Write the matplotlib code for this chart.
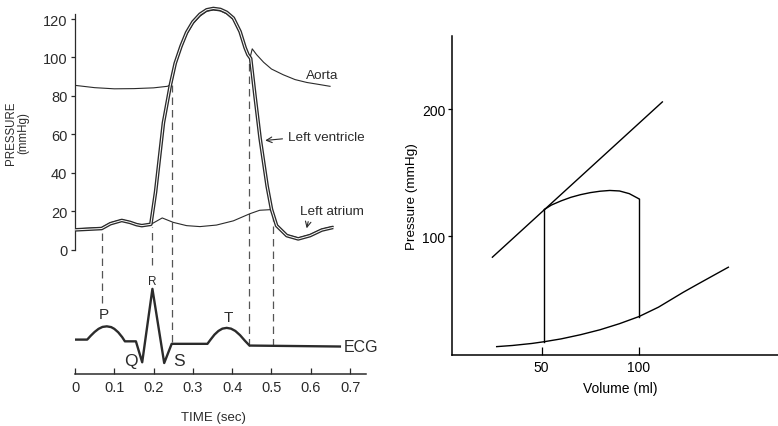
import matplotlib
matplotlib.use("Agg")
import matplotlib.pyplot as plt

plt.rcParams["font.family"] = ["Liberation Sans", "DejaVu Sans"]

# 左图：压力曲线（时间 s，压力 mmHg）
lv_t = [0, 0.068, 0.09, 0.119, 0.14, 0.157, 0.17, 0.193, 0.205, 0.225, 0.243, 0.255, 0.27, 0.284,
        0.3, 0.318, 0.335, 0.352, 0.37, 0.386, 0.403, 0.42, 0.433, 0.44, 0.447, 0.458, 0.471,
        0.489, 0.5, 0.513, 0.539, 0.568, 0.598, 0.628, 0.657]
lv_p = [10.3, 11.0, 13.5, 15.2, 14.2, 13.0, 12.5, 13.2, 30, 66, 86, 97, 106, 113,
        118.5, 122.5, 124.8, 125.5, 125, 123.5, 120.5, 113.5, 105, 101.5, 99.5, 80, 58,
        33, 21, 12.5, 7.3, 5.6, 7.3, 10.2, 11.6]

ao_t = [0, 0.05, 0.1, 0.15, 0.2, 0.235, 0.245, 0.255, 0.27, 0.284, 0.3, 0.318, 0.335, 0.352,
        0.37, 0.386, 0.403, 0.42, 0.433, 0.44, 0.446, 0.451, 0.462, 0.48, 0.5, 0.53, 0.56,
        0.59, 0.62, 0.649]
ao_p = [85.5, 84.3, 83.7, 83.8, 84.2, 85, 86, 96, 105, 112, 117.5, 121.5, 124, 124.7,
        124.2, 122.7, 119.7, 112.7, 104.5, 101.5, 100.3, 104.5, 101.5, 97.5, 94, 91, 88.5,
        87, 86, 85]

la_t = [0, 0.068, 0.09, 0.119, 0.14, 0.157, 0.17, 0.195, 0.222, 0.25, 0.284, 0.318, 0.36,
        0.403, 0.445, 0.47, 0.496, 0.503, 0.513, 0.539, 0.568, 0.598, 0.628, 0.657]
la_p = [10.8, 11.5, 14, 15.6, 14.5, 13.4, 12.8, 13.4, 16.5, 14.2, 12.5, 12, 12.8,
        15, 18.7, 20.5, 20.8, 20, 13, 7.8, 6.1, 7.8, 10.7, 12.1]

# 心电图（与压力同一纵轴单位，置于 0 以下）
ecg_t = [0.003, 0.031, 0.04, 0.05, 0.06, 0.07, 0.081, 0.092, 0.1, 0.11, 0.12, 0.127, 0.155,
         0.171, 0.197, 0.227, 0.246, 0.337, 0.345, 0.355, 0.365, 0.375, 0.386, 0.397, 0.408,
         0.42, 0.432, 0.444, 0.674]
ecg_v = [-46.8, -46.8, -44.8, -42.8, -41.2, -40.2, -39.9, -40.3, -41.2, -43, -45.5, -47.7, -47.7,
         -58.6, -20.4, -59, -49, -49, -46.8, -44.2, -42.3, -41.1, -40.7, -41.1, -42.3,
         -44.5, -47.3, -49.9, -50.4]

event_t = [0.068, 0.196, 0.246, 0.442, 0.503]
event_top = [10.5, 12, 85.5, 98, 20]
event_bottom = [-28, -8, -48, -50, -50]

ecg_letters = ["P", "Q", "R", "S", "T"]
letter_t = [0.074, 0.142, 0.196, 0.265, 0.389]
letter_v = [-33.6, -57.9, -16.3, -57.9, -35]
letter_size = [11, 12.5, 8.5, 12.5, 11]

time_ticks = [0, 0.1, 0.2, 0.3, 0.4, 0.5, 0.6, 0.7]
pressure_ticks = [0, 20, 40, 60, 80, 100, 120]

# 右图：压力–容积环
espvr_v = [24.7, 112]
espvr_p = [83.4, 205.8]
edpvr_v = [26.9, 35, 45, 51.4, 60, 70, 80, 90, 100, 110, 122.8, 130, 140, 145.9]
edpvr_p = [12.9, 13.8, 15.4, 16.8, 19, 22.3, 26.2, 31, 36.6, 44, 55.8, 62, 70.5, 75.5]
eject_v = [51.4, 55, 60, 65, 70, 75, 80, 85, 90, 95, 100]
eject_p = [121, 124.5, 127.8, 130.6, 132.7, 134.3, 135.4, 136, 135.6, 133.5, 129.4]
iso_v = [51.4, 100]
iso_bottom = [16.8, 36.6]
iso_top = [121, 129.4]

W, H = 778, 427
fig = plt.figure(figsize=(W / 100, H / 100), dpi=100)

ink = "#2b2b2b"
ax = fig.add_axes([75 / W, (H - 375) / H, 290.8 / W, 368.4 / H])
ax.set_xlim(0, 0.74)
ax.set_ylim(-64.7, 127)

ax.plot(la_t, la_p, color=ink, lw=0.8, zorder=2)
ax.plot(ao_t, ao_p, color=ink, lw=0.8, zorder=2)
ax.plot(lv_t, lv_p, color=ink, lw=2.6, zorder=3, solid_capstyle="butt")
ax.plot(lv_t, lv_p, color="white", lw=0.7, zorder=4, solid_capstyle="butt")
ax.plot(ecg_t, ecg_v, color=ink, lw=1.7, zorder=3)
for t, top, bot in zip(event_t, event_top, event_bottom):
    ax.plot([t, t], [bot, top], color="#555555", lw=0.9, dashes=(6, 4), zorder=1)

for s, t, v, fs in zip(ecg_letters, letter_t, letter_v, letter_size):
    ax.text(t, v, s, ha="center", va="center", fontsize=fs, color=ink)
ax.text(0.685, -50.6, "ECG", ha="left", va="center", fontsize=11.5, color=ink)

ax.text(0.588, 91, "Aorta", ha="left", va="center", fontsize=9.7, color=ink)
ax.text(0.542, 58.6, "Left ventricle", ha="left", va="center", fontsize=9.7, color=ink)
ax.annotate("", xy=(0.477, 56.7), xytext=(0.535, 57.8),
            arrowprops=dict(arrowstyle="->", color=ink, lw=0.8))
ax.text(0.573, 20, "Left atrium", ha="left", va="center", fontsize=9.7, color=ink)
ax.annotate("", xy=(0.588, 9.7), xytext=(0.595, 16),
            arrowprops=dict(arrowstyle="->", color=ink, lw=0.8))

ax.spines["top"].set_visible(False)
ax.spines["right"].set_visible(False)
ax.spines["left"].set_bounds(0, 122.6)
ax.spines["left"].set_color(ink)
ax.spines["bottom"].set_color(ink)
ax.spines["left"].set_linewidth(0.9)
ax.spines["bottom"].set_linewidth(1.1)
ax.set_yticks(pressure_ticks)
ax.set_xticks(time_ticks)
ax.set_xticklabels([("%g" % v) for v in time_ticks])
ax.tick_params(axis="y", direction="out", length=3, width=0.9, pad=2.5,
               labelsize=10.5, colors=ink)
ax.tick_params(axis="x", direction="in", length=4, width=0.9, pad=4.5,
               labelsize=10.5, colors=ink)

fig.text(17 / W, 1 - 133 / H, "PRESSURE\n(mmHg)", rotation=90, ha="center", va="center",
         fontsize=8.3, color=ink, linespacing=0.95)
fig.text(213 / W, 1 - 418 / H, "TIME (sec)", ha="center", va="center", fontsize=9.5, color=ink)

# 右图
bx = fig.add_axes([451.7 / W, (H - 356) / H, 326.3 / W, 319.3 / H])
bx.set_xlim(3.8, 171.4)
bx.set_ylim(6.3, 258)
bx.plot(espvr_v, espvr_p, color="black", lw=1.0)
bx.plot(edpvr_v, edpvr_p, color="black", lw=1.0)
bx.plot(eject_v, eject_p, color="black", lw=1.0)
for v, lo, hi in zip(iso_v, iso_bottom, iso_top):
    bx.plot([v, v], [lo, hi], color="black", lw=1.0)

bx.spines["top"].set_visible(False)
bx.spines["right"].set_visible(False)
bx.spines["left"].set_linewidth(1.1)
bx.spines["bottom"].set_linewidth(1.1)
bx.set_xticks([50, 100])
bx.set_yticks([100, 200])
bx.tick_params(axis="y", direction="out", length=3, width=0.9, pad=1.5, labelsize=10)
bx.tick_params(axis="x", direction="in", length=5.5, width=0.9, pad=3.5, labelsize=10)

fig.text(411.7 / W, 1 - 196.7 / H, "Pressure (mmHg)", rotation=90, ha="center",
         va="center", fontsize=9.7)
fig.text(620 / W, 1 - 389 / H, "Volume (ml)", ha="center", va="center", fontsize=10)

fig.savefig("out.png", dpi=100)
